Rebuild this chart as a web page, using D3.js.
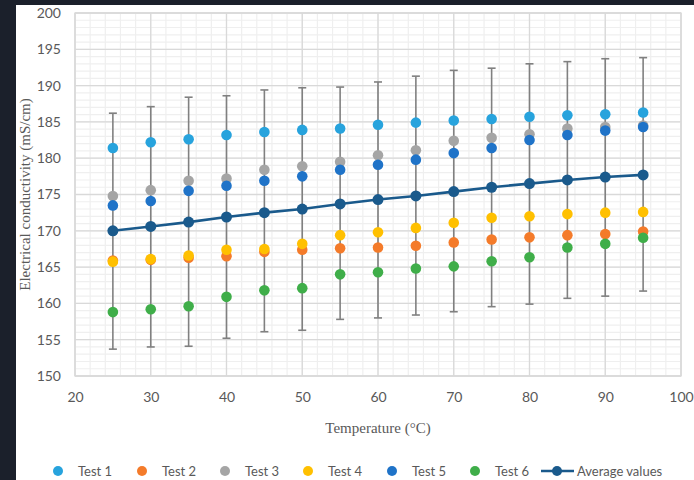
<!DOCTYPE html>
<html><head><meta charset="utf-8">
<script src="https://cdn.jsdelivr.net/npm/d3@7"></script>
<style>
html,body{margin:0;padding:0;background:#1b202b;overflow:hidden;}
svg{display:block;}
</style></head>
<body>
<svg id="chart" width="694" height="480"></svg>
<script>
const temps = [25,30,35,40,45,50,55,60,65,70,75,80,85,90,95];
const test1 = [181.4,182.2,182.6,183.2,183.6,183.9,184.1,184.6,184.9,185.2,185.4,185.7,185.9,186.05,186.3];
const test2 = [165.9,166.0,166.3,166.5,167.1,167.4,167.6,167.7,167.95,168.4,168.8,169.1,169.4,169.55,169.9];
const test3 = [174.8,175.6,176.9,177.2,178.4,178.9,179.5,180.4,181.1,182.4,182.8,183.3,184.1,184.3,184.5];
const test4 = [165.75,166.1,166.6,167.4,167.5,168.2,169.4,169.8,170.4,171.1,171.8,172.0,172.3,172.5,172.6];
const test5 = [173.5,174.1,175.5,176.2,176.9,177.5,178.4,179.1,179.8,180.7,181.4,182.5,183.2,183.8,184.3];
const test6 = [158.8,159.2,159.6,160.9,161.8,162.1,164.0,164.3,164.8,165.1,165.8,166.35,167.7,168.2,169.05];
const average = [170.0,170.6,171.2,171.9,172.5,173.0,173.7,174.3,174.8,175.4,176.0,176.5,177.0,177.4,177.7];
const errHigh = [186.2,187.1,188.4,188.6,189.4,189.7,189.8,190.5,191.3,192.1,192.4,193.0,193.3,193.7,193.85];
const errLow  = [153.7,154.0,154.1,155.2,156.1,156.3,157.8,158.0,158.4,158.85,159.55,159.9,160.7,161.0,161.7];
const xTicks = [20,30,40,50,60,70,80,90,100];
const yTicks = [150,155,160,165,170,175,180,185,190,195,200];
const seriesNames = ["Test 1","Test 2","Test 3","Test 4","Test 5","Test 6"];
const seriesColors = ["#27a3dd","#f47b2a","#a5a5a5","#ffc000","#1f73c8","#3fae49"];
const avgName = "Average values";
const avgColor = "#1a5a8c";
const xTitle = "Temperature (°C)";
const yTitle = "Electrical conductivity (mS/cm)";

const tests = [test1,test2,test3,test4,test5,test6];
const svg = d3.select("#chart");
svg.append("rect").attr("x",16).attr("y",5).attr("width",678).attr("height",475).attr("fill","#ffffff");

const L=75, R=681, T=13, B=376;
const x = d3.scaleLinear().domain([20,100]).range([L,R]);
const y = d3.scaleLinear().domain([150,200]).range([B,T]);

const g = svg.append("g");
// minor grid
g.selectAll(".vminor").data(d3.range(20,101,2)).enter().append("line")
  .attr("x1",d=>x(d)).attr("x2",d=>x(d)).attr("y1",T).attr("y2",B)
  .attr("stroke","#efefef").attr("stroke-width",1.2);
g.selectAll(".hminor").data(d3.range(150,201,1)).enter().append("line")
  .attr("y1",d=>y(d)).attr("y2",d=>y(d)).attr("x1",L).attr("x2",R)
  .attr("stroke","#efefef").attr("stroke-width",1.2);
// major grid
g.selectAll(".vmajor").data(xTicks).enter().append("line")
  .attr("x1",d=>x(d)).attr("x2",d=>x(d)).attr("y1",T).attr("y2",B)
  .attr("stroke","#d9d9d9").attr("stroke-width",1.3);
g.selectAll(".hmajor").data(yTicks).enter().append("line")
  .attr("y1",d=>y(d)).attr("y2",d=>y(d)).attr("x1",L).attr("x2",R)
  .attr("stroke","#d9d9d9").attr("stroke-width",1.3);
g.append("rect").attr("x",L).attr("y",T).attr("width",R-L).attr("height",B-T)
  .attr("fill","none").attr("stroke","#d9d9d9").attr("stroke-width",1.3);

// axes labels
const font = "Lato, 'Open Sans', sans-serif";
const xAxis = d3.axisBottom(x).tickValues(xTicks).tickSize(0).tickPadding(16);
const xa = svg.append("g").attr("transform",`translate(0,${B})`).call(xAxis);
xa.select(".domain").remove();
xa.selectAll("text").attr("fill","#595959").attr("font-size",14).attr("font-family",font);
const yAxis = d3.axisLeft(y).tickValues(yTicks).tickSize(0).tickPadding(14);
const ya = svg.append("g").attr("transform",`translate(${L},0)`).call(yAxis);
ya.select(".domain").remove();
ya.selectAll("text").attr("fill","#595959").attr("font-size",14).attr("font-family",font);

svg.append("text").attr("x",378).attr("y",433).attr("text-anchor","middle")
  .attr("font-family","'Liberation Serif', serif").attr("font-size",15).attr("fill","#595959").text(xTitle);
svg.append("text").attr("transform",`translate(30,${(T+B)/2}) rotate(-90)`).attr("text-anchor","middle")
  .attr("font-family","'Liberation Serif', serif").attr("font-size",15).attr("fill","#595959").text(yTitle);

// error bars
const eb = svg.append("g").attr("stroke","#808080").attr("stroke-width",1.6);
temps.forEach((t,i)=>{
  eb.append("line").attr("x1",x(t)).attr("x2",x(t)).attr("y1",y(errHigh[i])).attr("y2",y(errLow[i]));
  eb.append("line").attr("x1",x(t)-4).attr("x2",x(t)+4).attr("y1",y(errHigh[i])).attr("y2",y(errHigh[i]));
  eb.append("line").attr("x1",x(t)-4).attr("x2",x(t)+4).attr("y1",y(errLow[i])).attr("y2",y(errLow[i]));
});

// test series
tests.forEach((s,k)=>{
  svg.append("g").selectAll("circle").data(s).enter().append("circle")
    .attr("cx",(d,i)=>x(temps[i])).attr("cy",d=>y(d)).attr("r",5.3).attr("fill",seriesColors[k]);
});
// average
svg.append("path").datum(average)
  .attr("d",d3.line().x((d,i)=>x(temps[i])).y(d=>y(d)))
  .attr("fill","none").attr("stroke",avgColor).attr("stroke-width",2.6);
svg.append("g").selectAll("circle").data(average).enter().append("circle")
  .attr("cx",(d,i)=>x(temps[i])).attr("cy",d=>y(d)).attr("r",5.5).attr("fill",avgColor);

// legend
const legX = [58,142,225,308,392,475];
const ly = 471;
seriesNames.forEach((n,k)=>{
  svg.append("circle").attr("cx",legX[k]).attr("cy",ly).attr("r",5).attr("fill",seriesColors[k]);
  svg.append("text").attr("x",legX[k]+20).attr("y",476).attr("font-family",font).attr("font-size",13)
    .attr("fill","#595959").text(n);
});
svg.append("line").attr("x1",541).attr("x2",574).attr("y1",ly).attr("y2",ly).attr("stroke",avgColor).attr("stroke-width",2.6);
svg.append("circle").attr("cx",557).attr("cy",ly).attr("r",5).attr("fill",avgColor);
svg.append("text").attr("x",577).attr("y",476).attr("font-family",font).attr("font-size",13)
  .attr("fill","#595959").text(avgName);
</script>
</body></html>
